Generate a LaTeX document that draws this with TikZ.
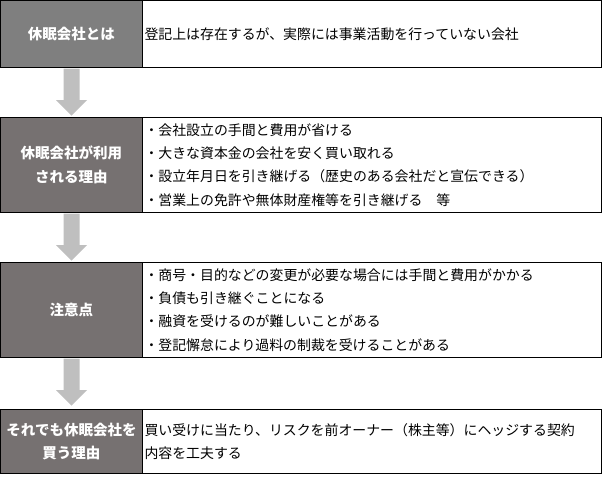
\documentclass[tikz,border=0pt]{standalone}
\usepackage{fontspec}
\setmainfont{Noto Sans CJK JP}
\usepackage{tikz}
\definecolor{headgray}{HTML}{7F7F7F}
\definecolor{headdark}{HTML}{767171}
\definecolor{arrowgray}{HTML}{BFBFBF}
\tikzset{
  head/.style = {draw=black, line width=1pt, anchor=north west, text=white,
    font=\fontsize{14.5}{23.5}\selectfont\bfseries, align=center,
    minimum width=142, text width=142, inner sep=0pt},% left label
  body/.style = {draw=black, line width=1pt, anchor=north west,
    font=\fontsize{13.9}{23.3}\selectfont, align=left,
    minimum width=459, text width=455, inner xsep=2pt, inner ysep=0pt},% right text
  flow/.style = {fill=arrowgray}
}
\begin{document}
\begin{tikzpicture}[x=1pt,y=-1pt]
\useasboundingbox (0,0) rectangle (603,477);
% rows
\node [head, fill=headgray, minimum height=67] (h1) at (0,0) {休眠会社とは};
\node [body, minimum height=67] (b1) at (142,0)
  {登記上は存在するが、実際には事業活動を行っていない会社};
\node [head, fill=headdark, minimum height=95] (h2) at (0,117)
  {休眠会社が利用\\される理由};
\node [body, minimum height=95] (b2) at (142,117)
  {・会社設立の手間と費用が省ける\\
   ・大きな資本金の会社を安く買い取れる\\
   ・設立年月日を引き継げる（歴史のある会社だと宣伝できる）\\
   ・営業上の免許や無体財産権等を引き継げる　等};
\node [head, fill=headdark, minimum height=95] (h3) at (0,262) {注意点};
\node [body, minimum height=95] (b3) at (142,262)
  {・商号・目的などの変更が必要な場合には手間と費用がかかる\\
   ・負債も引き継ぐことになる\\
   ・融資を受けるのが難しいことがある\\
   ・登記懈怠により過料の制裁を受けることがある};
\node [head, fill=headdark, minimum height=64] (h4) at (0,409)
  {それでも休眠会社を\\買う理由};
\node [body, minimum height=64] (b4) at (142,409)
  {買い受けに当たり、リスクを前オーナー（株主等）にヘッジする契約\\
   内容を工夫する};
% arrows
\foreach \from in {h1,h2,h3}
  \fill [flow] (\from.south) ++(-8,0.5) -- ++(0,31.5) -- ++(-7.5,0)
    -- ++(15.5,15.5) -- ++(15.5,-15.5) -- ++(-7.5,0) -- ++(0,-31.5) -- cycle;
\end{tikzpicture}
\end{document}
